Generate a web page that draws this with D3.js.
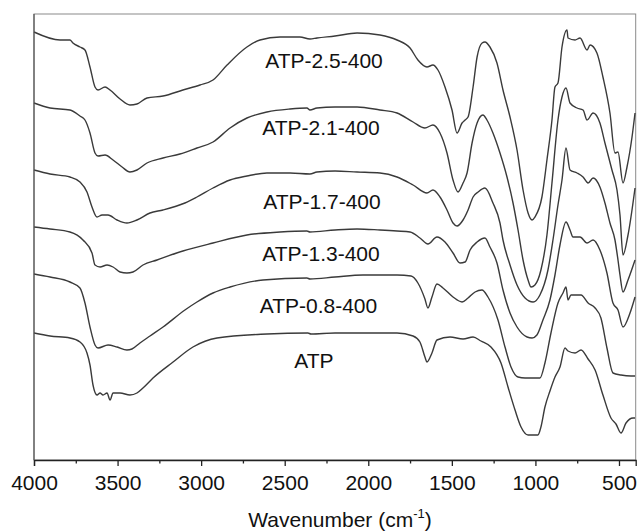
<!DOCTYPE html>
<html>
<head>
<meta charset="utf-8">
<script src="https://cdn.jsdelivr.net/npm/d3@7"></script>
<style>
  html, body { margin: 0; padding: 0; background: #fff; }
  svg { display: block; }
  text { font-family: Arial, "Liberation Sans", Helvetica, sans-serif; fill: #111; }
</style>
</head>
<body>
<svg id="chart" width="638" height="531"></svg>
<script>
// ---- Data (wavenumber cm^-1, transmittance in arbitrary offset units) ----
const seriesNames = ["ATP-2.5-400", "ATP-2.1-400", "ATP-1.7-400", "ATP-1.3-400", "ATP-0.8-400", "ATP"];

const atp25 = [[4000,428],[3844,420],[3785,420],[3767,417],[3725,413],[3695,410],[3665,393],[3635,373],[3617,370],[3575,373],[3545,370],[3485,361],[3426,355],[3384,356],[3324,362],[3228,364],[3109,370],[3007,375],[2929,380],[2845,395],[2726,413],[2648,420],[2528,423],[2409,423],[2349,421],[2307,422],[2199,424],[2067,427],[1930,425],[1828,420],[1750,412],[1703,400],[1649,393],[1613,395],[1583,390],[1541,373],[1499,350],[1469,327],[1439,337],[1421,340],[1403,343],[1373,373],[1349,403],[1319,417],[1302,418],[1272,413],[1230,397],[1194,370],[1152,343],[1110,310],[1074,270],[1044,247],[1020,240],[1003,243],[961,263],[931,300],[901,340],[883,373],[865,377],[841,413],[811,430],[805,422],[763,420],[733,422],[691,410],[673,415],[632,407],[596,383],[554,347],[524,307],[506,308],[476,277],[452,293],[422,323],[404,347]];

const atp21 = [[4000,357],[3904,352],[3785,350],[3725,344],[3695,340],[3665,327],[3635,307],[3617,304],[3575,305],[3527,300],[3473,293],[3426,288],[3384,290],[3324,297],[3228,302],[3127,306],[3025,312],[2929,318],[2827,332],[2726,342],[2606,348],[2468,351],[2367,352],[2349,350],[2307,352],[2199,353],[2067,353],[1930,350],[1828,347],[1732,338],[1661,332],[1613,335],[1571,327],[1529,307],[1493,280],[1463,268],[1433,277],[1409,287],[1379,317],[1349,337],[1314,345],[1290,340],[1254,327],[1212,307],[1170,283],[1134,257],[1104,230],[1074,200],[1044,180],[1026,173],[1003,175],[967,190],[931,225],[901,277],[865,340],[841,363],[817,372],[793,357],[751,352],[715,350],[691,340],[655,347],[614,337],[584,317],[542,290],[512,270],[494,245],[476,205],[446,225],[404,272]];

const atp17 = [[4000,290],[3904,286],[3785,283],[3725,278],[3683,268],[3653,253],[3623,243],[3593,245],[3557,245],[3503,240],[3444,237],[3384,240],[3306,247],[3228,250],[3097,257],[3025,263],[2929,272],[2827,280],[2726,284],[2606,287],[2468,287],[2349,286],[2307,288],[2199,289],[2067,288],[1930,287],[1828,283],[1732,275],[1649,267],[1613,270],[1571,263],[1529,250],[1493,237],[1469,234],[1433,240],[1403,250],[1373,263],[1343,268],[1302,272],[1254,257],[1212,237],[1194,220],[1152,195],[1110,175],[1062,162],[1014,158],[973,165],[925,190],[895,220],[865,255],[841,280],[817,312],[793,290],[751,287],[715,283],[685,277],[655,282],[614,273],[584,257],[554,237],[524,220],[506,200],[494,185],[476,168],[446,180],[404,200]];

const atp13 = [[4000,233],[3904,231],[3785,228],[3707,220],[3653,207],[3635,195],[3605,193],[3563,195],[3527,193],[3485,188],[3444,187],[3408,188],[3348,195],[3264,200],[3109,209],[2929,217],[2726,225],[2528,228],[2367,229],[2349,228],[2199,230],[2067,231],[1930,230],[1828,229],[1750,228],[1691,222],[1643,216],[1589,223],[1541,218],[1493,207],[1451,197],[1421,198],[1391,210],[1349,218],[1302,222],[1272,213],[1230,197],[1194,170],[1152,147],[1110,133],[1050,123],[1020,122],[991,125],[955,140],[913,160],[883,185],[853,215],[817,238],[793,230],[775,223],[733,223],[691,217],[655,220],[614,210],[572,187],[536,157],[506,150],[476,133],[434,147],[404,163]];

const atp08 = [[4000,186],[3904,183],[3785,178],[3725,172],[3695,157],[3665,133],[3635,115],[3617,112],[3557,115],[3503,113],[3444,110],[3414,111],[3366,117],[3306,124],[3228,133],[3097,150],[3025,158],[2929,167],[2827,173],[2630,180],[2367,182],[2349,181],[2199,183],[2032,185],[1828,185],[1744,184],[1703,177],[1661,161],[1643,152],[1619,163],[1589,176],[1553,172],[1493,163],[1439,158],[1403,162],[1361,168],[1320,170],[1284,163],[1224,140],[1182,113],[1146,93],[1104,83],[1062,82],[973,82],[943,97],[907,127],[865,157],[835,167],[817,173],[805,160],[787,165],[727,165],[685,157],[643,152],[608,142],[572,112],[536,87],[488,85],[428,84],[404,84]];

const atp = [[4000,127],[3904,124],[3785,122],[3725,118],[3683,107],[3665,95],[3647,75],[3623,65],[3605,67],[3587,65],[3563,67],[3545,60],[3527,67],[3485,67],[3426,65],[3384,67],[3348,72],[3288,82],[3168,98],[3049,113],[2905,122],[2606,126],[2361,127],[2343,126],[2199,127],[1828,127],[1732,124],[1691,118],[1661,103],[1649,98],[1619,107],[1589,120],[1511,123],[1433,121],[1373,123],[1326,119],[1266,113],[1206,97],[1164,73],[1122,50],[1086,33],[1044,25],[985,25],[967,33],[943,53],[913,69],[883,83],[853,93],[823,112],[805,109],[763,107],[727,110],[685,101],[643,90],[596,65],[548,42],[518,36],[488,27],[458,37],[416,42],[404,42]];

const seriesValues = [atp25, atp21, atp17, atp13, atp08, atp];

const majorTicks = [4000, 3500, 3000, 2500, 2000, 1500, 1000, 500];
const minorTicks = [3750, 3250, 2750, 2250, 1750, 1250, 750];
const xTitle = "Wavenumber (cm";
const xTitleSup = "-1";

// Label anchor (wavenumber of label centre, value of baseline) – layout, not data
const labelAnchors = [[2265,392],[2283,325],[2277,251],[2283,199],[2298,147],[2325,92]];

// ---- Layout ----
const svg = d3.select("#chart");
const mLeft = 34, mRight = 635.7, mTop = 14, mBottom = 460;

const x = d3.scaleLinear().domain([4000, 400]).range([mLeft, mRight]);
const y = d3.scaleLinear().domain([0, 446]).range([mBottom, mTop]);

// frame
svg.append("rect")
  .attr("x", mLeft).attr("y", mTop)
  .attr("width", mRight - mLeft).attr("height", mBottom - mTop)
  .attr("fill", "none").attr("stroke", "#8a8a8a").attr("stroke-width", 1);

// curves
const line = d3.line()
  .x(d => x(d[0])).y(d => y(d[1]))
  .curve(d3.curveMonotoneX);

svg.append("g").selectAll("path")
  .data(seriesValues)
  .join("path")
  .attr("d", line)
  .attr("fill", "none")
  .attr("stroke", "#3a3a3a")
  .attr("stroke-width", 1.4)
  .attr("stroke-linejoin", "round");

// series labels
svg.append("g").selectAll("text")
  .data(seriesNames)
  .join("text")
  .attr("x", (d, i) => x(labelAnchors[i][0]))
  .attr("y", (d, i) => y(labelAnchors[i][1]))
  .attr("text-anchor", "middle")
  .attr("font-size", 21)
  .text(d => d);

// x axis
const axis = d3.axisBottom(x)
  .tickValues(majorTicks)
  .tickSize(6)
  .tickPadding(9)
  .tickFormat(d3.format("d"));

const gx = svg.append("g")
  .attr("transform", `translate(0,${mBottom})`)
  .call(axis);
gx.select(".domain").attr("stroke", "#222").attr("stroke-width", 1.3);
gx.selectAll(".tick line").attr("stroke", "#222").attr("stroke-width", 1.3);
gx.selectAll(".tick text")
  .attr("font-size", 21)
  .attr("font-family", "Arial, 'Liberation Sans', sans-serif")
  .attr("fill", "#111");

const minorAxis = d3.axisBottom(x).tickValues(minorTicks).tickSize(3.5).tickFormat("");
const gm = svg.append("g").attr("transform", `translate(0,${mBottom})`).call(minorAxis);
gm.select(".domain").remove();
gm.selectAll(".tick line").attr("stroke", "#222").attr("stroke-width", 1.3);

// left axis line (darker)
svg.append("line")
  .attr("x1", mLeft).attr("x2", mLeft).attr("y1", mTop).attr("y2", mBottom)
  .attr("stroke", "#555").attr("stroke-width", 1.2);

// axis title
const title = svg.append("text")
  .attr("x", 340).attr("y", 527)
  .attr("text-anchor", "middle")
  .attr("font-size", 21);
title.append("tspan").text(xTitle);
title.append("tspan").attr("font-size", 13).attr("dy", -9).text(xTitleSup);
title.append("tspan").attr("dy", 9).text(")");
</script>
</body>
</html>
